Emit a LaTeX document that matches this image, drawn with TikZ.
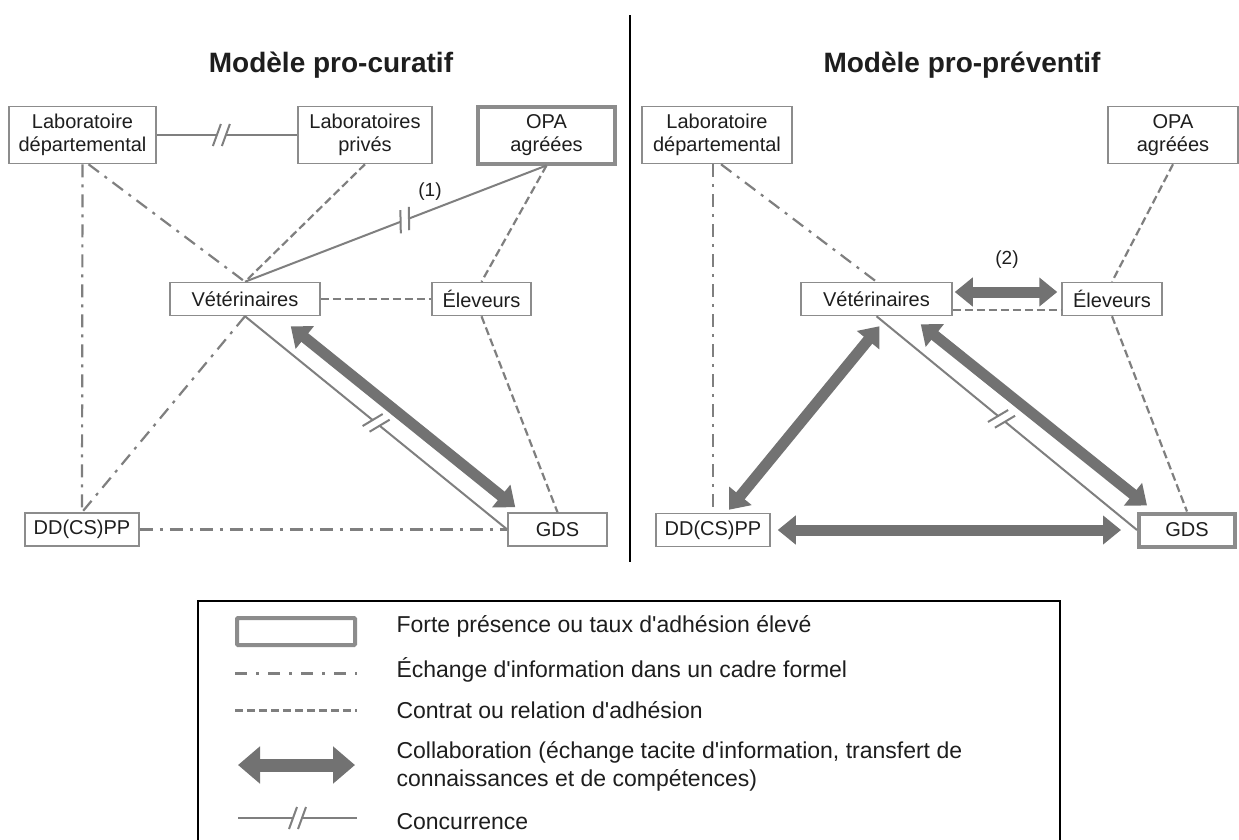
\documentclass[tikz,border=0pt]{standalone}
\usepackage{fontspec}
\setmainfont{Liberation Sans}
\usetikzlibrary{arrows.meta,decorations.markings}
\definecolor{linegray}{HTML}{7F7F7F}
\definecolor{boxgray}{HTML}{8C8C8C}
\definecolor{arrowgray}{HTML}{727272}
\definecolor{textgray}{HTML}{1E1E1E}

\tikzset{
  box/.style={draw=boxgray, line width=1.5pt, fill=white, text=textgray, align=center,
    inner xsep=4pt, inner ysep=2pt, minimum height=33pt, font=\fontsize{20}{23}\selectfont},
  twoline/.style={minimum height=57pt},
  strong/.style={line width=4pt},
  formel/.style={draw=linegray, line width=2.2pt, dash pattern=on 13pt off 7pt on 3pt off 7pt},
  contrat/.style={draw=linegray, line width=2.2pt, dash pattern=on 8pt off 4pt},
  collab/.style={draw=arrowgray, line width=11pt,
    {Triangle[width=28pt,length=18pt]}-{Triangle[width=28pt,length=18pt]}},
  concur/.style={draw=linegray, line width=2pt, postaction={decorate},
    decoration={markings, mark=at position #1 with {
      \fill[white] (-4.5,-3) rectangle (4.5,3);
      \draw[linegray, line width=2pt] (-8.5,11) -- (-0.5,-11) (0.5,11) -- (8.5,-11);}}},
  concur/.default=0.5,
  lbl/.style={text=textgray, font=\fontsize{19}{22}\selectfont},
  title/.style={text=textgray, font=\fontsize{28}{32}\selectfont\bfseries},
  legtext/.style={text=textgray, anchor=west, align=left, font=\fontsize{23}{28}\selectfont},
}

\begin{document}
\begin{tikzpicture}[x=1pt, y=-1pt]
				\useasboundingbox (0,0) rectangle (1239,839);
				\fill[white] (0,0) rectangle (1239,839);
				
				% titres et separation
				\node[title] at (331,65) (titleL) {Modèle pro-curatif};
				\node[title] at (962,65) (titleR) {Modèle pro-préventif};
				\coordinate (divTop) at (630,15);
				\coordinate (divBot) at (630,562);
				\draw[line width=1.2pt] (divTop) -- (divBot);
				
				% modele pro-curatif
				\node[box, twoline, minimum width=147pt] at (82.5,135) (laboL) {Laboratoire\\départemental};
				\node[box, twoline, minimum width=134pt] at (365,135) (privL) {Laboratoires\\privés};
				\node[box, twoline, strong, minimum width=137pt] at (546.5,135) (opaL) {OPA\\agréées};
				\node[box, minimum width=150pt] at (245,299) (vetL) {Vétérinaires};
				\node[box, minimum width=99pt] at (481.5,299) (elevL) {Éleveurs};
				\node[box, minimum width=114pt] at (82,529.5) (ddL) {DD(CS)PP};
				\node[box, minimum width=99pt] at (557.5,529.5) (gdsL) {GDS};
				\node[lbl] at (430,192) (numA) {(1)};
				
				\draw[concur=0.46] (laboL.east) -- (privL.west);
				\draw[formel] (laboL.south) -- (ddL.north);
				\draw[formel] ([shift={(6,0)}]laboL.south) -- (vetL.north);
				\draw[contrat] (privL.south) -- (vetL.north);
				\draw[concur=0.53] (vetL.north) -- (opaL.south);
				\draw[contrat] (opaL.south) -- (elevL.north);
				\draw[contrat] (vetL.east) -- (elevL.west);
				\draw[formel] (vetL.south) -- (ddL.north);
				\draw[concur] (vetL.south) -- (gdsL.west);
				\draw[collab] ([shift={(-30,10)}]vetL.south east) -- ([shift={(8,-5)}]gdsL.north west);
				\draw[contrat] (elevL.south) -- (gdsL.north);
				\draw[formel] (ddL.east) -- (gdsL.west);
				
				% modele pro-preventif
				\node[box, twoline, minimum width=150pt] at (717,135) (laboR) {Laboratoire\\départemental};
				\node[box, twoline, minimum width=130pt] at (1173,135) (opaR) {OPA\\agréées};
				\node[box, minimum width=151pt] at (876.5,299) (vetR) {Vétérinaires};
				\node[box, minimum width=100pt] at (1112,299) (elevR) {Éleveurs};
				\node[box, minimum width=114pt] at (713,530) (ddR) {DD(CS)PP};
				\node[box, strong, minimum width=96pt] at (1187,530) (gdsR) {GDS};
				\node[lbl] at (1007,260) (numB) {(2)};
				
				\draw[formel] (laboR.south -| ddR.north) -- (ddR.north);
				\draw[formel] ([shift={(4,0)}]laboR.south) -- (vetR.north);
				\draw[contrat] (opaR.south) -- (elevR.north);
				\draw[collab] ([shift={(2,-7)}]vetR.east) -- ([shift={(-4,-7)}]elevR.west);
				\draw[contrat] ([shift={(0,11)}]vetR.east) -- ([shift={(0,11)}]elevR.west);
				\draw[concur=0.48] (vetR.south) -- (gdsR.west);
				\draw[collab] ([shift={(-32,8)}]vetR.south east) -- ([shift={(10,-6)}]gdsR.north west);
				\draw[collab] ([shift={(3,10)}]vetR.south) -- ([shift={(16,-3)}]ddR.north);
				\draw[collab] ([shift={(7,0)}]ddR.east) -- ([shift={(-16,0)}]gdsR.west);
				\draw[contrat] (elevR.south) -- (gdsR.north);
				
				% legende
				\draw[line width=1.5pt] (198,850) -- (198,601) -- (1060,601) -- (1060,850);
				\draw[draw=boxgray, line width=4pt, rounded corners=1pt] (237,618) rectangle (355,645);
				\draw[formel, line width=3pt, dash pattern=on 12pt off 9pt on 3pt off 9pt] (235,673) -- (357,673);
				\draw[contrat, line width=3pt] (235,710) -- (357,710);
				\draw[collab, line width=13pt, {Triangle[width=36pt,length=22pt]}-{Triangle[width=36pt,length=22pt]}] (238,765) -- (355,765);
				\draw[concur] (238,818) -- (357,818);
				\node[legtext] at (393,626) (legA) {Forte présence ou taux d\textquotesingle adhésion élevé};
				\node[legtext] at (393,670) (legB) {Échange d\textquotesingle information dans un cadre formel};
				\node[legtext] at (393,710) (legC) {Contrat ou relation d\textquotesingle adhésion};
				\node[legtext] at (393,766) (legD) {Collaboration (échange tacite d\textquotesingle information, transfert de\\connaissances et de compétences)};
				\node[legtext] at (393,822) (legE) {Concurrence};
			\end{tikzpicture}
\end{document}
